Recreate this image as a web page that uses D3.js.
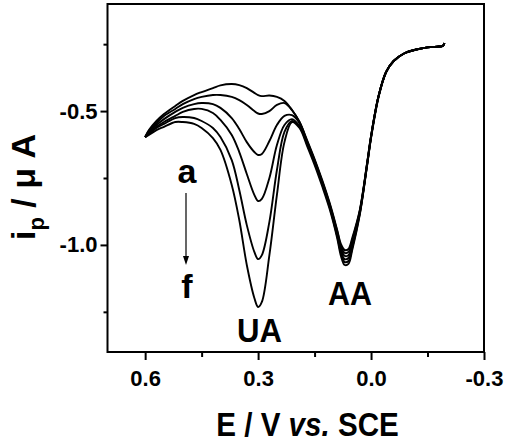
<!DOCTYPE html>
<html>
<head>
<meta charset="utf-8">
<script src="https://cdn.jsdelivr.net/npm/d3@7"></script>
<style>
  body { margin: 0; background: #fff; }
  text { font-family: "Liberation Sans", Arial, sans-serif; font-weight: bold; }
</style>
</head>
<body>
<div id="chart"></div>
<script>
var w = 510
var h = 444

// potential (V vs. SCE), shared by all six scans
var potential = [0.60, 0.59, 0.57, 0.55, 0.52, 0.50, 0.47, 0.45, 0.42, 0.40, 0.37, 0.35, 0.33, 0.31, 0.30, 0.29, 0.27, 0.25, 0.23, 0.21,
                 0.19, 0.17, 0.15, 0.13, 0.11, 0.09, 0.08, 0.07, 0.06, 0.05, 0.03, 0.01, 0.00, -0.02, -0.04, -0.06, -0.09, -0.12, -0.15, -0.18, -0.19, -0.195];

// peak current (uA), curves a -> f
var curveA = [-0.597, -0.571, -0.537, -0.511, -0.481, -0.462, -0.440, -0.429, -0.414, -0.404, -0.399, -0.403, -0.414, -0.432, -0.440, -0.444, -0.442, -0.447, -0.462, -0.496,
              -0.541, -0.608, -0.679, -0.757, -0.843, -0.944, -0.997, -1.019, -1.015, -0.974, -0.870, -0.690, -0.593, -0.444, -0.354, -0.313, -0.283, -0.270, -0.262, -0.259, -0.257, -0.246];
var curveB = [-0.597, -0.574, -0.545, -0.518, -0.492, -0.474, -0.455, -0.447, -0.440, -0.440, -0.447, -0.459, -0.477, -0.500, -0.509, -0.511, -0.500, -0.477, -0.470, -0.496,
              -0.541, -0.612, -0.683, -0.761, -0.847, -0.948, -1.004, -1.030, -1.026, -0.982, -0.873, -0.690, -0.593, -0.444, -0.354, -0.313, -0.283, -0.270, -0.262, -0.259, -0.257, -0.246];
var curveC = [-0.597, -0.578, -0.552, -0.530, -0.503, -0.488, -0.474, -0.470, -0.474, -0.488, -0.526, -0.567, -0.616, -0.653, -0.664, -0.660, -0.612, -0.552, -0.518, -0.515,
              -0.545, -0.616, -0.686, -0.765, -0.851, -0.956, -1.015, -1.041, -1.038, -0.993, -0.877, -0.694, -0.597, -0.444, -0.354, -0.313, -0.283, -0.270, -0.262, -0.259, -0.257, -0.246];
var curveD = [-0.597, -0.582, -0.559, -0.541, -0.518, -0.503, -0.492, -0.492, -0.507, -0.533, -0.589, -0.653, -0.735, -0.813, -0.836, -0.828, -0.750, -0.627, -0.552, -0.530,
              -0.556, -0.619, -0.690, -0.769, -0.855, -0.959, -1.023, -1.053, -1.049, -1.000, -0.881, -0.694, -0.597, -0.444, -0.354, -0.313, -0.283, -0.270, -0.262, -0.259, -0.257, -0.246];
var curveE = [-0.597, -0.586, -0.563, -0.548, -0.526, -0.522, -0.526, -0.537, -0.563, -0.597, -0.683, -0.795, -0.926, -1.026, -1.053, -1.038, -0.914, -0.720, -0.578, -0.537,
              -0.559, -0.623, -0.694, -0.772, -0.858, -0.967, -1.030, -1.064, -1.060, -1.012, -0.884, -0.698, -0.597, -0.444, -0.354, -0.313, -0.283, -0.270, -0.262, -0.259, -0.257, -0.246];
var curveF = [-0.597, -0.589, -0.571, -0.559, -0.541, -0.541, -0.548, -0.563, -0.601, -0.645, -0.776, -0.907, -1.075, -1.198, -1.232, -1.213, -1.038, -0.813, -0.616, -0.541,
              -0.563, -0.630, -0.701, -0.780, -0.866, -0.974, -1.041, -1.075, -1.071, -1.019, -0.888, -0.698, -0.601, -0.448, -0.354, -0.313, -0.283, -0.270, -0.262, -0.259, -0.257, -0.246];

var curves = [curveA, curveB, curveC, curveD, curveE, curveF];

var xMajor = [0.6, 0.3, 0.0, -0.3];
var xMinor = [0.45, 0.15, -0.15];
var yMajor = [-0.5, -1.0];
var yMinor = [-0.25, -0.75, -1.25];

var x = d3.scaleLinear().domain([0.7, -0.3]).range([107.5, 484]);
var y = d3.scaleLinear().domain([-1.4, -0.1]).range([352, 4]);

var svg = d3.select("#chart").append("svg")
    .attr("width", w)
    .attr("height", h);

svg.append("rect").attr("width", w).attr("height", h).attr("fill", "#fff");

// axes (major labelled, minor shorter)
var fmt = function(d) { return d3.format(".1f")(d).replace("\u2212", "-"); };

svg.append("g").attr("transform", "translate(0,352)")
    .call(d3.axisBottom(x).tickValues(xMajor).tickSize(8).tickPadding(10).tickFormat(fmt));
svg.append("g").attr("transform", "translate(0,352)")
    .call(d3.axisBottom(x).tickValues(xMinor).tickSize(5).tickFormat(""));

svg.append("g").attr("transform", "translate(107.5,0)")
    .call(d3.axisLeft(y).tickValues(yMajor).tickSize(7).tickPadding(3).tickFormat(fmt));
svg.append("g").attr("transform", "translate(107.5,0)")
    .call(d3.axisLeft(y).tickValues(yMinor).tickSize(4).tickFormat(""));

svg.selectAll(".domain").remove();
svg.selectAll(".tick line").attr("stroke", "#000").attr("stroke-width", 2);
svg.selectAll(".tick text")
    .attr("fill", "#000")
    .style("font-size", "22px")
    .style("font-family", "'Liberation Sans', Arial, sans-serif")
    .style("font-weight", "bold");

// frame
svg.append("rect")
    .attr("x", 107.5).attr("y", 4)
    .attr("width", 484 - 107.5).attr("height", 352 - 4)
    .attr("fill", "none").attr("stroke", "#000").attr("stroke-width", 2);

// curves
var line = d3.line()
    .x(function(d, i) { return x(potential[i]); })
    .y(function(d) { return y(d); })
    .curve(d3.curveCatmullRom.alpha(0.5));

svg.selectAll("path.scan").data(curves).enter()
  .append("path")
    .attr("class", "scan")
    .attr("fill", "none")
    .attr("stroke", "#000")
    .attr("stroke-width", 1.9)
    .attr("d", line);

// labels
function label(txt, cx, by) {
  return svg.append("text")
    .attr("x", cx).attr("y", by)
    .attr("text-anchor", "middle")
    .style("font-size", "34px")
    .text(txt);
}
label("a", 187, 183);
label("f", 187, 298);
label("UA", 259.5, 342).attr("textLength", 45).attr("lengthAdjust", "spacingAndGlyphs");
label("AA", 350, 305).attr("textLength", 44).attr("lengthAdjust", "spacingAndGlyphs");

// arrow a -> f
svg.append("line")
    .attr("x1", 186).attr("y1", 193).attr("x2", 186).attr("y2", 258)
    .attr("stroke", "#000").attr("stroke-width", 1.2);
svg.append("path")
    .attr("d", "M183,256 L189,256 L186,265 Z")
    .attr("fill", "#000");

// x title
var xt = svg.append("text")
    .attr("transform", "translate(307.5,436) scale(0.87,1)")
    .attr("text-anchor", "middle")
    .style("font-size", "34px");
xt.append("tspan").text("E / V ");
xt.append("tspan").style("font-style", "italic").text("vs.");
xt.append("tspan").text(" SCE");

// y title
var yt = svg.append("text")
    .attr("transform", "translate(35,187) rotate(-90)")
    .attr("text-anchor", "middle")
    .style("font-size", "34px");
yt.append("tspan").text("i");
yt.append("tspan").attr("dy", 9).style("font-size", "22px").text("p");
yt.append("tspan").attr("dy", -9).text(" / \u03bc A");
</script>
</body>
</html>
